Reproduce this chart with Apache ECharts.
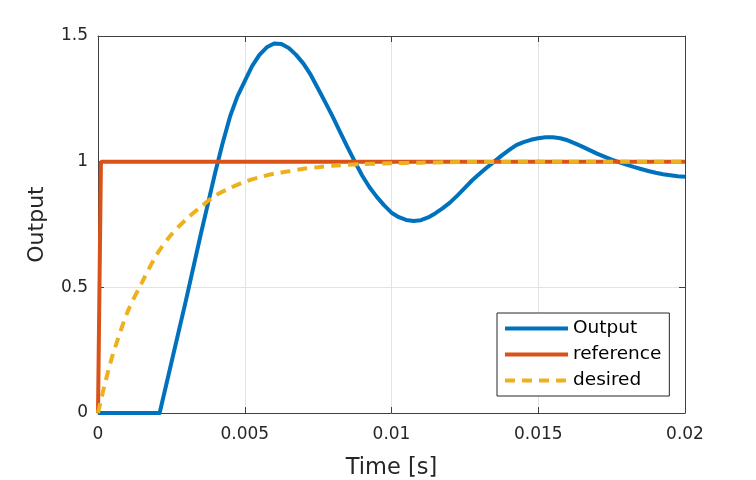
<!DOCTYPE html>
<html>
<head>
<meta charset="utf-8">
<script src="https://cdn.jsdelivr.net/npm/echarts@6/dist/echarts.min.js"></script>
<style>
  html, body { margin: 0; padding: 0; background: #fff; }
  #chart { width: 756px; height: 480px; }
</style>
</head>
<body>
<div id="chart"></div>
<script>
// values (time in s)
const outputT = [0, 0.0021, 0.0025, 0.003, 0.0035, 0.00375, 0.004, 0.00425, 0.0045, 0.00475, 0.005, 0.00525, 0.0055, 0.00575, 0.006, 0.00625, 0.0065, 0.00675, 0.007, 0.00725, 0.0075, 0.00775, 0.008, 0.00825, 0.0085, 0.00875, 0.009, 0.00925, 0.0095, 0.00975, 0.01, 0.01025, 0.0105, 0.01075, 0.011, 0.01125, 0.0115, 0.01175, 0.012, 0.01225, 0.0125, 0.01275, 0.013, 0.01325, 0.0135, 0.01375, 0.014, 0.01425, 0.0145, 0.01475, 0.015, 0.01525, 0.0155, 0.01575, 0.016, 0.01625, 0.0165, 0.01675, 0.017, 0.01725, 0.0175, 0.01775, 0.018, 0.01825, 0.0185, 0.01875, 0.019, 0.01925, 0.0195, 0.01975, 0.02];
const outputV = [0, 0, 0.20, 0.45, 0.71, 0.835, 0.96, 1.075, 1.18, 1.26, 1.32, 1.38, 1.425, 1.455, 1.47, 1.468, 1.452, 1.425, 1.39, 1.345, 1.29, 1.235, 1.178, 1.118, 1.058, 1.0, 0.945, 0.898, 0.86, 0.826, 0.797, 0.779, 0.768, 0.764, 0.767, 0.778, 0.795, 0.815, 0.838, 0.866, 0.896, 0.926, 0.952, 0.977, 1.0, 1.024, 1.046, 1.066, 1.078, 1.087, 1.093, 1.097, 1.097, 1.093, 1.085, 1.073, 1.06, 1.046, 1.032, 1.02, 1.008, 0.998, 0.988, 0.979, 0.971, 0.963, 0.956, 0.95, 0.946, 0.942, 0.94];

const refT = [0, 0.0001, 0.02];
const refV = [0, 1, 1];

const desT = [0, 0.0002, 0.0005, 0.001, 0.0015, 0.002, 0.0025, 0.003, 0.0035, 0.004, 0.0045, 0.005, 0.0055, 0.006, 0.0065, 0.007, 0.0075, 0.008, 0.009, 0.01, 0.011, 0.012, 0.014, 0.016, 0.018, 0.02];
const desV = [0, 0.10, 0.23, 0.40, 0.52, 0.63, 0.71, 0.77, 0.82, 0.865, 0.895, 0.92, 0.938, 0.952, 0.962, 0.972, 0.978, 0.984, 0.99, 0.994, 0.996, 0.998, 0.999, 1.0, 1.0, 1.0];

const seriesNames = ['Output', 'reference', 'desired'];

const pairs = (xs, ys) => xs.map((x, i) => [x, ys[i]]);

const FONT = 'DejaVu Sans';
const AXIS_COLOR = '#404040';

const chart = echarts.init(document.getElementById('chart'));

const option = {
    backgroundColor: '#fff',
    animation: false,
    grid: { left: 98, right: 71, top: 36, bottom: 67, containLabel: false, outerBoundsMode: 'none' },
    legend: {
        data: seriesNames,
        orient: 'vertical',
        left: 497,
        top: 313,
        padding: [6, 8, 6, 6],
        itemWidth: 63,
        itemHeight: 14,
        itemGap: 7,
        itemStyle: { opacity: 0 },   // hide the dot, keep the line sample
        lineStyle: { width: 4 },
        backgroundColor: '#fff',
        borderColor: '#262626',
        borderWidth: 1,
        borderRadius: 0,
        textStyle: { fontFamily: FONT, fontSize: 18.5, color: '#000' }
    },
    xAxis: [
        {
            type: 'value',
            min: 0, max: 0.02, interval: 0.005,
            name: 'Time [s]',
            nameLocation: 'middle',
            nameGap: 44,
            nameTextStyle: { fontFamily: FONT, fontSize: 22.5, color: '#262626' },
            axisLine: { show: true, onZero: false, lineStyle: { color: AXIS_COLOR, width: 1 } },
            axisTick: { show: true, inside: true, length: 6, lineStyle: { color: AXIS_COLOR } },
            axisLabel: { fontFamily: FONT, fontSize: 17, color: '#262626', margin: 13 },
            splitLine: { show: true, lineStyle: { color: '#e3e3e3', width: 1 } }
        },
        {
            type: 'value', position: 'top',
            min: 0, max: 0.02, interval: 0.005,
            axisLine: { show: true, onZero: false, lineStyle: { color: AXIS_COLOR, width: 1 } },
            axisTick: { show: true, inside: true, length: 6, lineStyle: { color: AXIS_COLOR } },
            axisLabel: { show: false },
            splitLine: { show: false }
        }
    ],
    yAxis: [
        {
            type: 'value',
            min: 0, max: 1.5, interval: 0.5,
            name: 'Output',
            nameLocation: 'middle',
            nameGap: 50,
            nameTextStyle: { fontFamily: FONT, fontSize: 22, color: '#262626' },
            axisLine: { show: true, onZero: false, lineStyle: { color: AXIS_COLOR, width: 1 } },
            axisTick: { show: true, inside: true, length: 6, lineStyle: { color: AXIS_COLOR } },
            axisLabel: { fontFamily: FONT, fontSize: 17, color: '#262626', margin: 10 },
            splitLine: { show: true, lineStyle: { color: '#e3e3e3', width: 1 } }
        },
        {
            type: 'value', position: 'right',
            min: 0, max: 1.5, interval: 0.5,
            axisLine: { show: true, onZero: false, lineStyle: { color: AXIS_COLOR, width: 1 } },
            axisTick: { show: true, inside: true, length: 6, lineStyle: { color: AXIS_COLOR } },
            axisLabel: { show: false },
            splitLine: { show: false }
        }
    ],
    series: [
        {
            name: seriesNames[0],
            type: 'line',
            data: pairs(outputT, outputV),
            symbol: 'none',
            color: '#0072BD',
            lineStyle: { color: '#0072BD', width: 4, join: 'round' }
        },
        {
            name: seriesNames[1],
            type: 'line',
            data: pairs(refT, refV),
            symbol: 'none',
            color: '#D95319',
            lineStyle: { color: '#D95319', width: 4 }
        },
        {
            name: seriesNames[2],
            type: 'line',
            data: pairs(desT, desV),
            symbol: 'none',
            smooth: 0.3,
            color: '#EDB120',
            lineStyle: { color: '#EDB120', width: 4, type: [10, 7] }
        }
    ]
};

chart.setOption(option);
</script>
</body>
</html>
